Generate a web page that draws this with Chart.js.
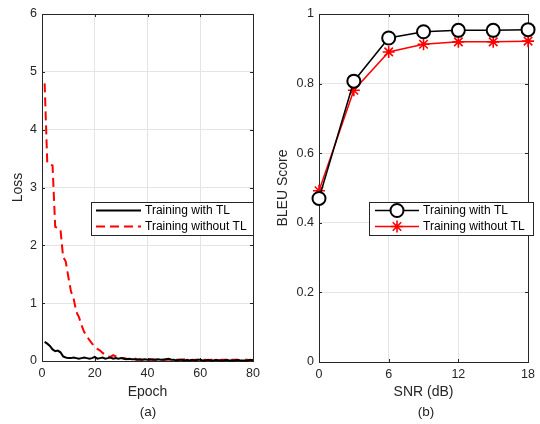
<!DOCTYPE html>
<html lang="en">
<head>
<meta charset="UTF-8">
<title>Loss / BLEU - TL comparison</title>
<script src="https://cdn.jsdelivr.net/npm/chart.js"></script>
<style>
  body { margin: 0; background: #fff; font-family: 'Liberation Sans', Arial, sans-serif; }
  #wrap { position: relative; width: 540px; height: 424px; }
  .panel { position: absolute; top: 0; width: 270px; height: 424px; }
  .cap { position: absolute; top: 404px; font-size: 13.5px; color: #262626; transform: translateX(-50%); }
</style>
</head>
<body>
<div id="wrap">
  <div class="panel" style="left:0"><canvas id="lossChart"></canvas></div>
  <div class="panel" style="left:270px"><canvas id="bleuChart"></canvas></div>
  <div class="cap" style="left:148px">(a)</div>
  <div class="cap" style="left:426px">(b)</div>
</div>
<script>
// ---- data ----
const epochs = [1,2,3,4,5,6,7,8,9,10,11,12,13,14,15,16,17,18,19,20,
  21,22,23,24,25,26,27,28,29,30,31,32,33,34,35,36,37,38,39,40,
  41,42,43,44,45,46,47,48,49,50,51,52,53,54,55,56,57,58,59,60,
  61,62,63,64,65,66,67,68,69,70,71,72,73,74,75,76,77,78,79,80];
const lossWithTL = [0.33,0.30,0.26,0.20,0.17,0.18,0.15,0.08,0.06,0.05,
  0.05,0.06,0.05,0.04,0.05,0.06,0.05,0.04,0.05,0.07,
  0.04,0.05,0.06,0.04,0.05,0.06,0.04,0.05,0.04,0.05,
  0.04,0.03,0.04,0.03,0.03,0.02,0.03,0.02,0.03,0.02,
  0.03,0.02,0.02,0.03,0.02,0.02,0.03,0.04,0.02,0.02,
  0.01,0.02,0.02,0.01,0.02,0.01,0.02,0.01,0.02,0.02,
  0.01,0.01,0.02,0.01,0.01,0.02,0.01,0.01,0.01,0.02,
  0.01,0.01,0.01,0.02,0.01,0.01,0.01,0.01,0.02,0.01];
const lossWithoutTL = [4.80,3.42,3.40,3.38,2.32,2.30,2.28,1.80,1.72,1.45,
  1.20,1.08,0.85,0.76,0.62,0.50,0.43,0.36,0.30,0.25,
  0.21,0.18,0.14,0.11,0.08,0.07,0.10,0.08,0.06,0.05,
  0.05,0.04,0.03,0.05,0.05,0.03,0.02,0.02,0.03,0.03,
  0.02,0.03,0.02,0.02,0.03,0.02,0.02,0.02,0.03,0.02,
  0.02,0.02,0.02,0.03,0.02,0.02,0.01,0.02,0.02,0.03,
  0.02,0.02,0.01,0.02,0.02,0.02,0.01,0.02,0.02,0.02,
  0.01,0.02,0.02,0.02,0.01,0.02,0.02,0.02,0.01,0.02];

const snr = [0, 3, 6, 9, 12, 15, 18];
const bleuWithTL = [0.47, 0.807, 0.931, 0.949, 0.953, 0.953, 0.955];
const bleuWithoutTL = [0.492, 0.781, 0.891, 0.913, 0.920, 0.920, 0.922];

const seriesNames = ['Training with TL', 'Training without TL'];

const FONT = "'Liberation Sans', Arial, sans-serif";
const INK = '#262626';
const GRID = '#e4e4e4';

// box round the axes + inward ticks + matlab style legend
const matlabBox = {
  id: 'matlabBox',
  beforeDatasetsDraw(chart) {
    const { ctx, chartArea: a, scales: { x, y } } = chart;
    ctx.save();
    ctx.strokeStyle = INK;
    ctx.lineWidth = 1;
    ctx.strokeRect(Math.round(a.left) + 0.5, Math.round(a.top) + 0.5,
      Math.round(a.right - a.left), Math.round(a.bottom - a.top));
    const t = 3;
    ctx.beginPath();
    x.ticks.forEach(tk => {
      const px = Math.round(x.getPixelForValue(tk.value)) + 0.5;
      ctx.moveTo(px, a.bottom); ctx.lineTo(px, a.bottom - t);
      ctx.moveTo(px, a.top); ctx.lineTo(px, a.top + t);
    });
    y.ticks.forEach(tk => {
      const py = Math.round(y.getPixelForValue(tk.value)) + 0.5;
      ctx.moveTo(a.left, py); ctx.lineTo(a.left + t, py);
      ctx.moveTo(a.right, py); ctx.lineTo(a.right - t, py);
    });
    ctx.stroke();
    ctx.restore();
  },
  afterDraw(chart, args, o) {
    if (!o.box) return;
    const { ctx } = chart;
    const [x1, y1, x2, y2] = o.box;
    ctx.save();
    ctx.fillStyle = '#fff';
    ctx.fillRect(x1, y1, x2 - x1, y2 - y1);
    ctx.strokeStyle = INK;
    ctx.lineWidth = 1;
    ctx.strokeRect(x1 + 0.5, y1 + 0.5, x2 - x1, y2 - y1);
    chart.data.datasets.forEach((ds, i) => {
      const ry = o.rows[i];
      ctx.strokeStyle = ds.borderColor;
      ctx.lineWidth = ds.borderWidth;
      ctx.setLineDash(ds.borderDash || []);
      ctx.beginPath();
      ctx.moveTo(o.sample[0], ry);
      ctx.lineTo(o.sample[1], ry);
      ctx.stroke();
      ctx.setLineDash([]);
      if (ds.pointRadius > 0) {
        ctx.fillStyle = ds.pointBackgroundColor;
        ctx.strokeStyle = ds.pointBorderColor;
        ctx.lineWidth = ds.pointBorderWidth;
        Chart.helpers.drawPoint(ctx, { pointStyle: ds.pointStyle, radius: ds.pointRadius, borderWidth: ds.pointBorderWidth, rotation: 0 },
          (o.sample[0] + o.sample[1]) / 2, ry);
      }
      ctx.fillStyle = '#000';
      ctx.font = '12px ' + FONT;
      ctx.textBaseline = 'middle';
      ctx.fillText(ds.label, o.textX, ry + 0.5);
    });
    ctx.restore();
  }
};

function scaleX(min, max, step, title, height, titlePad) {
  return {
    type: 'linear', min, max,
    ticks: { stepSize: step, color: INK, padding: 5, font: { family: FONT, size: 12.5 }, maxRotation: 0 },
    grid: { color: GRID, drawTicks: false },
    border: { display: false },
    title: { display: true, text: title, color: INK, font: { family: FONT, size: 14 }, padding: { top: 0, bottom: titlePad } },
    afterFit: s => { s.height = height; }
  };
}
function scaleY(min, max, step, title, width, titlePad, cb) {
  return {
    type: 'linear', min, max,
    ticks: { stepSize: step, color: INK, padding: 5, font: { family: FONT, size: 12.5 }, callback: cb },
    grid: { color: GRID, drawTicks: false },
    border: { display: false },
    title: { display: true, text: title, color: INK, font: { family: FONT, size: 14 }, padding: { top: titlePad, bottom: 0 } },
    afterFit: s => { s.width = width; }
  };
}

new Chart(document.getElementById('lossChart'), {
  type: 'line',
  data: {
    datasets: [
      { label: seriesNames[0], data: epochs.map((e, i) => ({ x: e, y: lossWithTL[i] })),
        borderColor: '#000', borderWidth: 2, pointRadius: 0, tension: 0, clip: false },
      { label: seriesNames[1], data: epochs.map((e, i) => ({ x: e, y: lossWithoutTL[i] })),
        borderColor: '#ff0000', borderWidth: 2, borderDash: [9, 5], pointRadius: 0, tension: 0, clip: false }
    ]
  },
  options: {
    responsive: true, maintainAspectRatio: false, animation: false,
    layout: { padding: { left: 0, right: 17, top: 14, bottom: 0 } },
    scales: {
      x: scaleX(0, 80, 20, 'Epoch', 63, 23.6),
      y: scaleY(0, 6, 1, 'Loss', 42, 9.9)
    },
    plugins: {
      legend: { display: false }, tooltip: { enabled: false },
      matlabBox: { box: [91, 202, 253, 235], sample: [96, 141], textX: 145, rows: [210.5, 226.5] }
    }
  },
  plugins: [matlabBox]
});

new Chart(document.getElementById('bleuChart'), {
  type: 'line',
  data: {
    datasets: [
      { label: seriesNames[0], data: snr.map((s, i) => ({ x: s, y: bleuWithTL[i] })),
        borderColor: '#000', borderWidth: 1.5, pointStyle: 'circle', pointRadius: 6.5,
        pointBorderWidth: 2, pointBackgroundColor: '#fff', pointBorderColor: '#000', tension: 0, clip: false },
      { label: seriesNames[1], data: snr.map((s, i) => ({ x: s, y: bleuWithoutTL[i] })),
        borderColor: '#ff0000', borderWidth: 1.5, pointStyle: 'star', pointRadius: 6,
        pointBorderWidth: 1.6, pointBackgroundColor: '#ff0000', pointBorderColor: '#ff0000', tension: 0, clip: false }
    ]
  },
  options: {
    responsive: true, maintainAspectRatio: false, animation: false,
    layout: { padding: { left: 0, right: 7, top: 14, bottom: 0 } },
    scales: {
      x: scaleX(0, 18, 6, 'SNR (dB)', 62, 23.6),
      y: scaleY(0, 1, 0.2, 'BLEU Score', 49, 4.6, v => String(+v.toFixed(1)))
    },
    plugins: {
      legend: { display: false }, tooltip: { enabled: false },
      matlabBox: { box: [99, 202, 263, 235], sample: [105, 149], textX: 153, rows: [210.5, 226.5] }
    }
  },
  plugins: [matlabBox]
});
</script>
</body>
</html>
